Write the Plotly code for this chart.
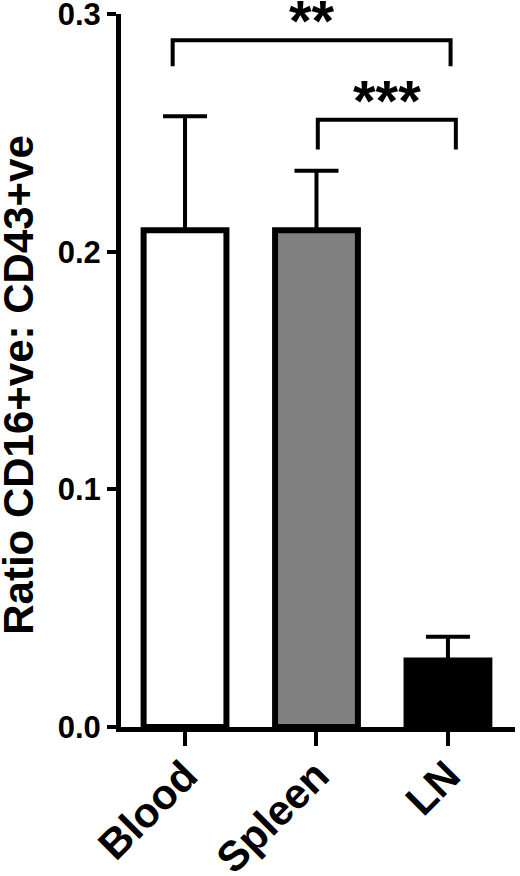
import plotly.graph_objects as go

# ---- data ----
categories = ["Blood", "Spleen", "LN"]
means = [0.209, 0.209, 0.028]
sem = [0.048, 0.025, 0.010]
bar_colors = ["#ffffff", "#808080", "#000000"]

y_title = "Ratio CD16+ve: CD43+ve"
y_ticks = [0.0, 0.1, 0.2, 0.3]

# significance comparisons (category index pairs)
comp_from = [0, 1]
comp_to = [2, 2]
comp_top = [0.289, 0.2555]      # horizontal bracket level
comp_drop = [0.278, 0.243]      # lower end of bracket legs
comp_label = ["**", "***"]
# small horizontal offsets of bracket ends (style)
comp_off_l = [-0.094, 0.01]
comp_off_r = [0.02, 0.06]

FONT = "Liberation Sans, Arial, sans-serif"

fig = go.Figure()
fig.add_trace(go.Bar(
    x=categories, y=means, width=0.63,
    marker=dict(color=bar_colors, line=dict(color="black", width=6)),
    error_y=dict(type="data", array=sem, arrayminus=[0] * len(sem), symmetric=False,
                 color="black", thickness=4, width=22),
    showlegend=False,
))

shapes = []
annotations = []
for a, b, top, drop, lab, ol, orr in zip(comp_from, comp_to, comp_top, comp_drop,
                                         comp_label, comp_off_l, comp_off_r):
    xl = a + ol
    xr = b + orr
    shapes.append(dict(type="path", xref="x", yref="y",
                       path=f"M {xl},{drop} L {xl},{top} L {xr},{top} L {xr},{drop}",
                       line=dict(color="black", width=4)))
    annotations.append(dict(x=(xl + xr) / 2, y=top, xref="x", yref="y", text=lab,
                            showarrow=False, yanchor="bottom", yshift=-15,
                            font=dict(family=FONT, size=58, color="black", weight="bold")))

# y-axis title as a rotated annotation
annotations.append(dict(text=y_title, xref="paper", yref="paper", x=0, y=0.48,
                        xanchor="center", yanchor="middle", xshift=-102, textangle=-90,
                        showarrow=False,
                        font=dict(family=FONT, size=42, color="black", weight="bold")))

fig.update_layout(
    width=520, height=876,
    margin=dict(l=121, r=5, t=14, b=149),
    plot_bgcolor="white", paper_bgcolor="white",
    shapes=shapes, annotations=annotations,
    font=dict(family=FONT, color="black", weight="bold"),
    xaxis=dict(type="category", range=[-0.487, 2.51], showline=True, linecolor="black",
               linewidth=5, ticks="outside", ticklen=14, tickwidth=4, tickcolor="black",
               tickangle=-45, tickfont=dict(size=42, family=FONT, weight="bold"),
               ticklabelstandoff=-12,
               showgrid=False, zeroline=False, automargin=False,
               ticklabeloverflow="allow"),
    yaxis=dict(range=[0, 0.3], tickvals=y_ticks, tickformat=".1f", showline=True,
               linecolor="black", linewidth=5, ticks="outside", ticklen=9, tickwidth=4,
               tickcolor="black", tickfont=dict(size=31, family=FONT, weight="bold"),
               showgrid=False, zeroline=False, automargin=False,
               ticklabeloverflow="allow"),
)

fig.write_html("out.html", config={"displayModeBar": False},
               post_script="document.body.style.margin='0';")
